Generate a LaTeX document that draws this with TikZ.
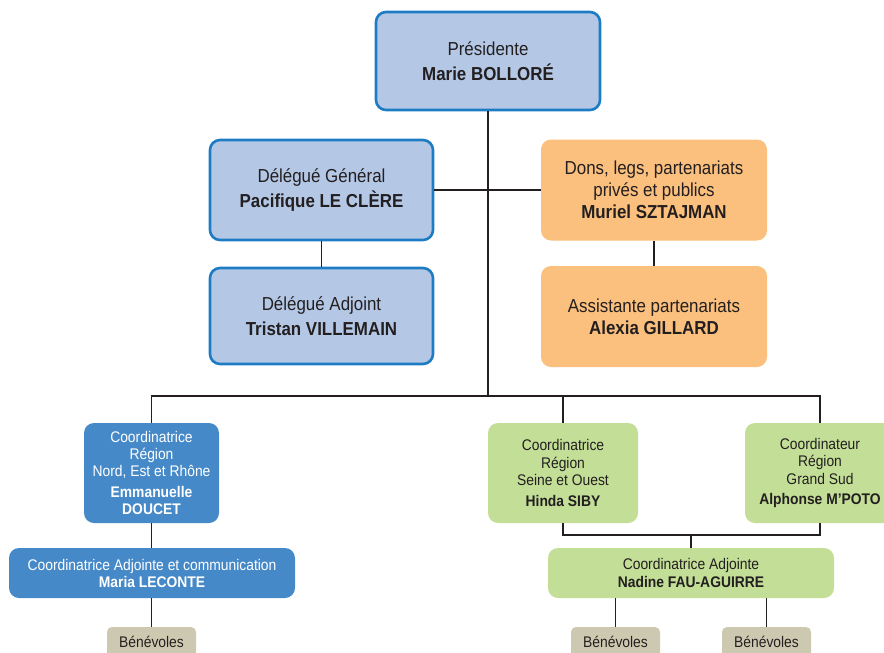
\documentclass[tikz,border=0pt]{standalone}
\usepackage{fontspec}
\setmainfont[FakeStretch=0.9]{Liberation Sans}
\definecolor{lblue}{HTML}{B4C8E6}
\definecolor{bblue}{HTML}{1E7CC4}
\definecolor{mblue}{HTML}{4689C8}
\definecolor{orng}{HTML}{FBC07D}
\definecolor{grn}{HTML}{C3DE96}
\definecolor{beige}{HTML}{CDC9B0}
\definecolor{txt}{HTML}{231F20}
\definecolor{lin}{HTML}{231F20}
\tikzset{
  base/.style={rectangle, rounded corners=10pt, inner sep=0pt, align=center, text=txt},
  topbox/.style={base, fill=lblue, draw=bblue, line width=2.6pt, font=\fontsize{18.8}{24.5}\selectfont},
  orgbox/.style={base, fill=orng, font=\fontsize{18.8}{22}\selectfont},
  bluebox/.style={base, fill=mblue, text=white, font=\fontsize{15.4}{17}\selectfont},
  grnbox/.style={base, fill=grn, font=\fontsize{15.4}{17.5}\selectfont},
  benbox/.style={base, rounded corners=5pt, fill=beige, font=\fontsize{15.4}{17}\selectfont},
  conn/.style={draw=lin, line width=1.9pt},
}
\begin{document}
\begin{tikzpicture}[x=1pt,y=-1pt]
\useasboundingbox (0,0) rectangle (884,653);
\clip (0,0) rectangle (884,653);
% nodes
\node[topbox, minimum width=224pt, minimum height=98pt] (pres) at (488,61)
  {Présidente\\\textbf{Marie BOLLORÉ}};
\node[topbox, minimum width=223pt, minimum height=100pt] (dg) at (321.5,190)
  {Délégué Général\\\textbf{Pacifique LE CLÈRE}};
\node[topbox, minimum width=223pt, minimum height=96pt] (da) at (321.5,316)
  {Délégué Adjoint\\\textbf{Tristan VILLEMAIN}};
\node[orgbox, minimum width=226pt, minimum height=101pt] (dons) at (654,190)
  {Dons, legs, partenariats\\privés et publics\\\textbf{Muriel SZTAJMAN}};
\node[orgbox, minimum width=226pt, minimum height=101pt] (asst) at (654,316.5)
  {Assistante partenariats\\\textbf{Alexia GILLARD}};
\node[bluebox, minimum width=135pt, minimum height=100pt] (nord) at (151.5,473)
  {Coordinatrice\\Région\\Nord, Est et Rhône\\[4pt]\textbf{Emmanuelle}\\\textbf{DOUCET}};
\node[bluebox, minimum width=286pt, minimum height=50pt] (maria) at (152,573)
  {Coordinatrice Adjointe et communication\\\textbf{Maria LECONTE}};
\node[benbox, minimum width=89pt, minimum height=36pt] (ben1) at (151.5,645)
  {\raisebox{6pt}{Bénévoles}};
\node[grnbox, minimum width=150pt, minimum height=100pt] (seine) at (563,473)
  {Coordinatrice\\Région\\Seine et Ouest\\[3pt]\textbf{Hinda SIBY}};
\node[grnbox, minimum width=150pt, minimum height=100pt] (sud) at (820,473)
  {Coordinateur\\Région\\Grand Sud\\[3pt]\textbf{Alphonse M'POTO}};
\node[grnbox, minimum width=286pt, minimum height=50pt] (adj) at (691,573)
  {Coordinatrice Adjointe\\\textbf{Nadine FAU-AGUIRRE}};
\node[benbox, minimum width=89pt, minimum height=36pt] (ben2) at (615.5,645)
  {\raisebox{6pt}{Bénévoles}};
\node[benbox, minimum width=89pt, minimum height=36pt] (ben3) at (766.5,645)
  {\raisebox{6pt}{Bénévoles}};
% junctions
\coordinate (j) at (488,396);
\coordinate (k) at (691,535);
% connectors
\draw[conn] (pres.south) -- (j);
\draw[conn] (dg.east) -- (dons.west);
\draw[conn] (dg.south) -- (da.north);
\draw[conn] (dons.south) -- (asst.north);
\draw[conn] (nord.north) |- (j) -| (sud.north);
\draw[conn] (seine.north) |- (j);
\draw[conn] (seine.south) |- (k) -| (sud.south);
\draw[conn] (k) -- (adj.north);
\draw[conn] (nord.south) -- (nord.south |- maria.north);
\draw[conn] (maria.south -| ben1) -- (ben1.north);
\draw[conn] (adj.south -| ben2) -- (ben2.north);
\draw[conn] (adj.south -| ben3) -- (ben3.north);
\end{tikzpicture}
\end{document}
